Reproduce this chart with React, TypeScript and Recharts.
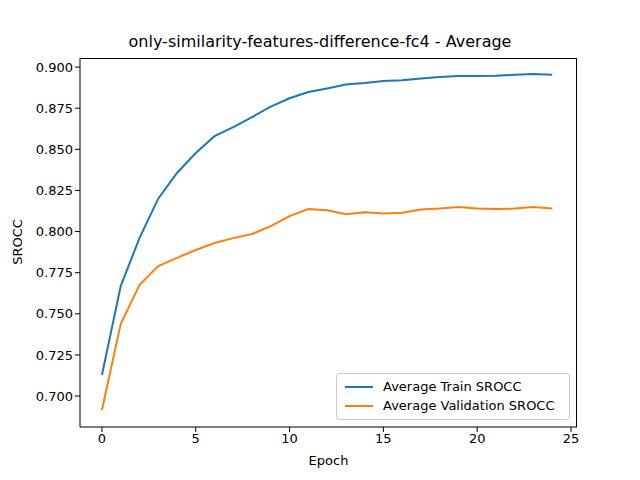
import { LineChart, Line, XAxis, YAxis } from "recharts";

const epochs = [0,1,2,3,4,5,6,7,8,9,10,11,12,13,14,15,16,17,18,19,20,21,22,23,24];
const trainSrocc = [0.7128,0.7669,0.796,0.820,0.8356,0.8477,0.858,0.8635,0.8696,0.876,0.881,0.8848,0.887,0.8894,0.8903,0.8915,0.892,0.893,0.894,0.8945,0.8945,0.8947,0.8953,0.8957,0.8953];
const valSrocc = [0.6915,0.7438,0.7675,0.779,0.784,0.7888,0.793,0.796,0.7985,0.8033,0.8094,0.8137,0.813,0.8106,0.8118,0.811,0.8115,0.8134,0.814,0.815,0.814,0.8137,0.814,0.815,0.814];
const xTicks = [0,5,10,15,20,25];
const yTicks = [0.7,0.725,0.75,0.775,0.8,0.825,0.85,0.875,0.9];

const data = epochs.map((e, i) => ({ epoch: e, train: trainSrocc[i], val: valSrocc[i] }));
const font = "DejaVu Sans";
const tick = { fill: "#000", fontSize: 13, fontFamily: font };

function LegendBox() {
  const items = [
    { label: "Average Train SROCC", color: "#1f77b4" },
    { label: "Average Validation SROCC", color: "#ff7f0e" },
  ];
  return (
    <div style={{ position: "absolute", left: 336, top: 373, width: 234, height: 47, boxSizing: "border-box", border: "1px solid #ccc", borderRadius: 3, background: "rgba(255,255,255,0.8)", fontFamily: font, fontSize: 13, padding: "3px 8px" }}>
      {items.map((it) => (
        <div key={it.label} style={{ display: "flex", alignItems: "center", height: 19, whiteSpace: "nowrap" }}>
          <span style={{ display: "inline-block", width: 28, height: 2, background: it.color, marginRight: 10 }} />
          {it.label}
        </div>
      ))}
    </div>
  );
}

export default function App() {
  return (
    <div style={{ position: "absolute", left: 0, top: 0, width: 640, height: 480, background: "#fff" }}>
      <div style={{ position: "absolute", top: 32, width: 640, textAlign: "center", fontFamily: font, fontSize: 16 }}>
        only-similarity-features-difference-fc4 - Average
      </div>
      <div style={{ position: "absolute", top: 453, left: 80, width: 497, textAlign: "center", fontFamily: font, fontSize: 13 }}>Epoch</div>
      <div style={{ position: "absolute", left: 17, top: 242, transform: "translate(-50%,-50%) rotate(-90deg)", fontFamily: font, fontSize: 13 }}>SROCC</div>
      <LineChart width={640} height={480} data={data} margin={{ top: 58, right: 63, bottom: 23, left: 20 }}>
        <XAxis dataKey="epoch" type="number" domain={[-1.17, 25.32]} ticks={xTicks} allowDataOverflow tick={tick} stroke="#000" tickSize={5} height={30} />
        <YAxis type="number" domain={[0.6812, 0.9055]} ticks={yTicks} allowDataOverflow tick={tick} stroke="#000" tickSize={5} width={60} tickFormatter={(v: number) => v.toFixed(3)} />
        <Line dataKey="train" stroke="#1f77b4" strokeWidth={2} dot={false} isAnimationActive={false} />
        <Line dataKey="val" stroke="#ff7f0e" strokeWidth={2} dot={false} isAnimationActive={false} />
      </LineChart>
      <div style={{ position: "absolute", left: 80, top: 58, width: 497, height: 369, boxSizing: "border-box", borderTop: "1px solid #000", borderRight: "1px solid #000", pointerEvents: "none" }} />
      <LegendBox />
    </div>
  );
}
